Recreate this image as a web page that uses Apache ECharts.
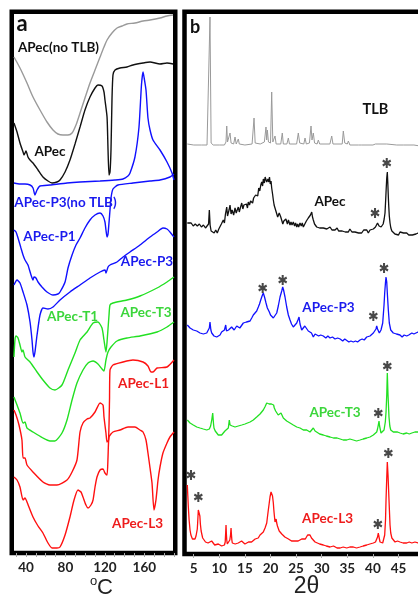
<!DOCTYPE html>
<html><head><meta charset="utf-8">
<script src="https://cdn.jsdelivr.net/npm/echarts@6/dist/echarts.min.js"></script>
<style>html,body{margin:0;padding:0;background:#fff}#c{width:418px;height:594px}</style>
</head><body><div id="c"></div>
<script>
// ---------- Panel a: DSC curves, [temperature °C, heat flow (a.u., stacked)] ----------
const dscApecNoTlb = [[27.8,496],[33.9,485],[41.0,470],[47.1,456],[54.2,443],[61.3,431],[67.4,423],[72.4,419],[77.5,418],[82.6,418],[86.7,420],[90.7,428],[94.8,440],[99.8,455],[104.9,470],[110.0,483],[115.1,496],[119.1,506],[122.2,513],[127.2,520],[132.3,525],[137.4,527],[142.4,529],[150.5,530],[158.7,532],[165.8,533],[175.9,535],[183.0,537],[189.1,538]];
const dscApec = [[27.8,430],[30.9,421],[33.9,410],[37.0,401],[38.0,398],[40.0,402],[42.0,396],[44.1,393],[47.1,390],[52.2,383],[57.2,376],[62.3,372],[66.4,370],[71.4,371],[74.5,373],[79.6,381],[84.6,393],[89.7,409],[94.8,426],[99.8,443],[104.9,456],[110.0,465],[113.0,468],[117.1,467],[119.1,461],[120.1,453],[122.2,436],[123.2,403],[124.2,378],[125.2,381],[126.2,403],[127.2,453],[128.2,478],[130.3,483],[135.3,485],[142.4,486],[148.5,488],[158.7,490],[165.8,491],[175.9,489],[183.0,490],[189.1,489]];
const dscP3NoTlb = [[27.8,370],[33.9,369],[39.0,369],[44.1,368],[47.1,365],[49.1,358],[51.2,363],[54.2,367],[64.3,368],[81.6,370],[94.8,371],[115.1,372],[130.3,373],[138.4,374],[143.4,377],[145.5,380],[150.5,396],[154.6,426],[157.1,468],[158.7,481],[159.7,476],[161.7,463],[163.7,435],[165.8,423],[168.8,413],[175.9,403],[183.0,391],[188.1,380],[190.1,373]];
const dscP1 = [[27.8,323],[29.9,321],[31.9,315],[34.9,305],[37.0,298],[39.0,293],[42.0,288],[45.1,278],[47.1,273],[48.1,276],[50.1,275],[52.2,271],[56.2,266],[61.3,261],[67.4,258],[72.4,259],[74.5,261],[79.6,271],[82.6,285],[86.7,298],[90.7,308],[94.8,315],[99.8,325],[104.9,333],[110.0,338],[115.1,340],[118.1,337],[120.1,331],[121.1,323],[122.2,316],[123.2,319],[125.2,343],[126.2,355],[128.2,364],[133.3,368],[148.5,370],[165.8,372],[175.9,373],[186.0,376],[190.1,379]];
const dscP3 = [[27.8,268],[30.9,273],[33.9,270],[37.0,261],[41.0,248],[44.1,231],[46.1,213],[47.1,201],[48.1,196],[49.1,201],[51.2,218],[54.2,238],[57.2,245],[62.3,244],[67.4,246],[74.5,253],[84.6,261],[94.8,268],[104.9,275],[115.1,281],[120.1,283],[121.1,280],[123.2,286],[125.2,288],[132.3,291],[138.4,296],[145.5,301],[155.6,308],[165.8,316],[172.9,321],[178.9,325],[183.0,324],[186.0,321],[190.1,316]];
const dscT1 = [[27.8,196],[28.8,213],[29.9,217],[31.9,215],[33.9,208],[35.9,201],[37.0,203],[39.0,196],[44.1,191],[51.2,181],[57.2,173],[64.3,165],[69.4,163],[76.5,168],[82.6,183],[89.7,200],[94.8,213],[101.9,221],[108.0,230],[113.0,231],[117.1,225],[119.1,213],[121.1,201],[122.2,211],[124.2,238],[125.2,248],[128.2,250],[142.4,253],[155.6,257],[172.9,265],[183.0,271],[190.1,276]];
const dscT3 = [[27.8,156],[30.9,148],[33.9,140],[37.0,130],[39.0,131],[41.0,125],[47.1,121],[57.2,115],[64.3,112],[69.4,112],[76.5,120],[81.6,133],[86.7,153],[91.7,170],[97.8,183],[102.9,190],[108.0,192],[113.0,189],[117.1,184],[119.1,182],[121.1,193],[123.2,201],[126.2,206],[132.3,212],[142.4,215],[155.6,217],[172.9,221],[183.0,226],[190.1,231]];
const dscL1 = [[27.8,143],[29.9,138],[32.9,128],[35.9,113],[37.0,95],[39.0,95],[41.0,88],[47.1,81],[57.2,71],[64.3,68],[71.4,68],[81.6,73],[86.7,81],[91.7,93],[94.8,121],[97.8,130],[101.9,134],[104.9,135],[110.0,141],[115.1,150],[118.1,148],[119.1,136],[121.1,120],[122.2,111],[123.7,113],[124.7,153],[125.2,183],[128.2,188],[138.4,191],[148.5,193],[158.7,191],[163.7,187],[166.8,181],[168.8,181],[172.9,185],[183.0,186],[190.1,193]];
const dscL3 = [[27.8,76],[30.9,73],[33.9,66],[37.0,53],[39.0,55],[41.0,51],[47.1,36],[52.2,27],[57.2,20],[62.3,10],[66.4,5],[71.4,5],[74.5,6],[79.6,18],[84.6,36],[88.7,53],[92.7,63],[95.8,61],[97.8,56],[100.8,48],[102.9,45],[105.9,48],[108.0,53],[110.0,66],[112.0,76],[115.1,83],[118.1,84],[120.1,80],[122.2,78],[123.2,96],[124.2,116],[128.2,121],[135.3,123],[143.4,126],[150.5,126],[155.6,123],[158.7,121],[161.7,113],[163.7,100],[165.8,85],[167.8,70],[169.8,43],[171.8,53],[173.9,73],[175.9,86],[178.9,100],[183.0,110],[186.0,116],[190.1,121]];
const tempTicks = [40, 80, 120, 160];

// ---------- Panel b: XRD patterns, [2θ (deg), intensity (a.u., stacked)] ----------
const xrdTLB = [[3.75,410],[5,409],[6.5,409],[7.6,409],[7.95,411],[8.18,537],[8.4,411],[8.8,409],[10,409],[11.0,409],[11.3,412],[11.45,428],[11.6,412],[11.9,411],[12.09,421],[12.3,411],[12.8,410],[13.07,417],[13.3,410],[13.71,415],[13.9,410],[15,409],[16.4,410],[16.78,436],[17.0,411],[18,410],[18.8,412],[19.12,427],[19.25,414],[19.38,424],[19.6,412],[20.0,411],[20.23,462],[20.45,412],[20.7,411],[20.88,418],[21.1,410],[22.0,410],[22.3,421],[22.5,410],[23.2,410],[23.48,416],[23.7,410],[25.1,410],[25.43,421],[25.7,411],[26.5,410],[26.74,416],[27.0,410],[27.6,411],[27.91,428],[28.1,414],[28.36,421],[28.6,411],[29.1,410],[29.34,414],[29.6,410],[31.6,410],[31.95,418],[32.2,410],[34.0,410],[34.22,423],[34.5,411],[35.0,410],[35.2,413],[35.5,409],[37.2,409],[37.48,411],[37.8,409],[40,409],[40.5,410],[42.7,410],[43,409],[44.65,409],[46,409],[48,409],[49.2,408]];
const xrdApec = [[3.75,331],[4.1,329],[4.5,331],[4.9,328],[5.3,330],[5.7,328],[6.1,330],[6.5,327],[6.9,329],[7.3,326],[7.6,328],[7.9,330],[8.05,344],[8.2,329],[8.4,323],[8.7,325],[9.0,321],[9.3,324],[9.6,321],[9.9,325],[10.14,326],[10.4,330],[10.6,328],[10.78,334],[11.0,331],[11.2,340],[11.45,347],[11.6,338],[11.76,337],[11.9,344],[12.09,349],[12.3,340],[12.5,344],[12.8,339],[13.07,346],[13.3,341],[13.5,344],[13.71,347],[13.9,342],[14.1,346],[14.38,351],[14.6,345],[14.8,349],[15.02,347],[15.3,350],[15.5,346],[15.66,352],[15.9,349],[16.1,353],[16.33,354],[16.5,351],[16.7,356],[16.9,354],[17.1,359],[17.3,361],[17.5,358],[17.7,366],[17.9,363],[18.1,369],[18.28,372],[18.45,368],[18.6,375],[18.8,371],[18.95,377],[19.12,379],[19.25,372],[19.38,370],[19.5,375],[19.65,372],[19.8,377],[19.95,370],[20.1,373],[20.23,366],[20.4,360],[20.55,354],[20.7,349],[20.88,347],[21.05,343],[21.21,341],[21.4,337],[21.52,336],[21.7,341],[21.86,342],[22.0,337],[22.2,335],[22.4,330],[22.6,333],[22.83,332],[23.0,335],[23.16,334],[23.3,330],[23.5,334],[23.81,329],[24.0,332],[24.2,329],[24.45,332],[24.7,328],[24.9,331],[25.12,327],[25.3,330],[25.5,327],[25.76,331],[26.0,328],[26.2,331],[26.41,327],[26.7,330],[27.0,333],[27.2,331],[27.38,336],[27.6,334],[27.8,339],[28.05,342],[28.2,337],[28.36,334],[28.6,330],[28.8,332],[29.02,327],[29.3,329],[29.6,326],[29.9,328],[30.31,326],[30.6,328],[31.0,325],[31.3,327],[31.62,327],[32.0,324],[32.27,326],[32.6,324],[33.0,326],[33.3,323],[33.6,325],[34.0,323],[34.3,325],[34.6,322],[34.88,324],[35.2,322],[35.5,325],[35.9,322],[36.2,324],[36.5,322],[36.8,324],[37.2,321],[37.48,323],[37.8,321],[38.2,324],[38.5,322],[38.8,324],[39.1,321],[39.43,324],[39.8,323],[40.08,325],[40.3,324],[40.5,327],[40.74,329],[40.9,331],[41.05,333],[41.2,328],[41.4,326],[41.6,327],[41.8,326],[42.0,330],[42.2,335],[42.36,341],[42.5,355],[42.6,366],[42.7,376],[42.81,382],[42.9,372],[43.01,357],[43.1,347],[43.2,338],[43.34,331],[43.5,326],[43.7,323],[43.98,322],[44.3,320],[44.6,322],[45.0,319],[45.29,322],[45.6,320],[46.0,321],[46.3,319],[46.6,321],[47.0,319],[47.3,321],[47.7,319],[48.0,321],[48.4,320],[48.81,321],[49.2,320]];
const xrdP3 = [[3.75,229],[4.0,227],[4.28,226],[4.6,225],[4.92,224],[5.25,222],[5.59,223],[5.9,221],[6.23,221],[6.55,223],[6.88,220],[7.2,222],[7.54,221],[7.8,223],[8.05,226],[8.18,232],[8.35,224],[8.52,221],[8.75,219],[8.96,218],[9.2,216],[9.49,217],[9.8,219],[10.14,219],[10.45,222],[10.78,221],[11.0,224],[11.25,229],[11.4,223],[11.56,221],[11.8,224],[12.09,224],[12.4,227],[12.73,227],[12.9,224],[13.07,225],[13.4,228],[13.71,229],[14.0,226],[14.38,228],[14.69,231],[15.02,229],[15.3,232],[15.66,234],[16.0,233],[16.33,236],[16.64,239],[17.0,240],[17.3,243],[17.62,247],[17.85,250],[18.09,254],[18.35,258],[18.59,261],[18.83,257],[19.12,251],[19.38,246],[19.57,244],[19.77,242],[20.0,239],[20.23,237],[20.55,236],[20.88,238],[21.21,241],[21.52,248],[21.86,257],[22.19,263],[22.38,267],[22.55,264],[22.83,257],[23.16,247],[23.48,239],[23.81,234],[24.1,230],[24.45,227],[24.8,229],[25.12,231],[25.35,234],[25.57,237],[25.76,230],[26.09,224],[26.41,225],[26.7,228],[27.07,227],[27.38,223],[27.71,224],[28.0,221],[28.36,217],[28.7,220],[29.02,220],[29.4,218],[29.8,219],[30.31,218],[30.8,216],[31.2,218],[31.62,216],[32.1,217],[32.6,215],[33.1,216],[33.6,215],[34.1,213],[34.5,215],[34.88,214],[35.3,212],[35.7,213],[36.17,212],[36.6,213],[37.0,212],[37.48,214],[37.9,215],[38.3,214],[38.79,217],[39.1,216],[39.43,218],[39.8,219],[40.08,221],[40.41,222],[40.6,225],[40.74,228],[40.9,225],[41.05,223],[41.25,221],[41.58,224],[41.91,231],[42.17,249],[42.3,261],[42.46,272],[42.56,277],[42.7,272],[42.81,261],[43.01,244],[43.2,231],[43.48,224],[43.7,222],[43.98,221],[44.3,219],[44.6,220],[45.29,219],[45.7,217],[46.1,219],[46.6,218],[47.0,219],[47.25,219],[47.6,221],[48.0,220],[48.4,221],[48.81,222],[49.2,222]];
const xrdT3 = [[3.75,134],[4.0,132],[4.28,131],[4.6,130],[4.92,129],[5.25,128],[5.59,127],[5.9,127],[6.23,126],[6.55,126],[6.88,125],[7.2,124],[7.54,124],[7.8,125],[8.05,125],[8.3,128],[8.52,134],[8.71,141],[8.87,130],[8.96,126],[9.2,123],[9.49,121],[9.8,119],[10.14,117],[10.45,119],[10.78,121],[11.1,123],[11.45,124],[11.76,126],[11.95,134],[12.1,129],[12.23,127],[12.54,128],[12.8,126],[13.07,127],[13.4,128],[13.71,128],[14.0,127],[14.38,129],[14.7,128],[15.02,130],[15.5,131],[16.0,132],[16.3,131],[16.64,134],[17.0,135],[17.3,137],[17.6,138],[17.95,140],[18.3,142],[18.59,144],[18.9,147],[19.26,151],[19.57,153],[19.75,150],[19.9,148],[20.17,150],[20.43,152],[20.6,149],[20.74,146],[21.0,143],[21.21,141],[21.5,139],[21.86,137],[22.05,141],[22.19,143],[22.35,139],[22.5,136],[22.8,134],[23.16,133],[23.5,132],[23.81,131],[24.1,130],[24.45,129],[24.8,128],[25.12,127],[25.4,128],[25.76,126],[26.1,125],[26.41,124],[26.7,125],[27.07,124],[27.4,123],[27.71,122],[28.0,124],[28.36,126],[28.7,123],[29.02,121],[29.6,120],[30.31,119],[30.9,118],[31.62,117],[32.3,116],[33.0,116],[33.6,115],[34.2,114],[34.88,114],[35.5,115],[36.17,114],[36.8,113],[37.48,114],[38.1,115],[38.79,116],[39.1,116],[39.43,117],[39.8,118],[40.08,119],[40.41,120],[40.74,122],[40.9,125],[41.05,129],[41.19,133],[41.3,128],[41.39,126],[41.58,121],[41.9,122],[42.17,124],[42.42,132],[42.56,142],[42.7,159],[42.81,181],[42.95,159],[43.14,137],[43.3,128],[43.48,124],[43.98,122],[44.32,121],[44.8,122],[45.29,121],[45.9,120],[46.6,121],[47.1,120],[47.6,121],[48.2,122],[48.81,122],[49.2,121]];
const xrdL3 = [[3.75,69],[3.85,58],[3.95,47],[4.1,34],[4.28,24],[4.45,19],[4.57,17],[4.75,15],[4.92,14],[5.1,16],[5.25,15],[5.45,18],[5.59,19],[5.7,25],[5.78,32],[5.9,44],[6.09,46],[6.2,38],[6.3,30],[6.45,23],[6.62,19],[6.75,16],[6.88,14],[7.1,15],[7.3,12],[7.54,13],[7.8,11],[8.0,13],[8.18,11],[8.5,13],[8.77,12],[9.1,9],[9.49,8],[9.8,10],[10.14,9],[10.45,8],[10.78,7],[11.0,9],[11.15,12],[11.25,22],[11.31,29],[11.38,20],[11.45,14],[11.56,10],[11.75,12],[11.89,11],[12.05,14],[12.19,19],[12.29,26],[12.36,20],[12.45,14],[12.54,11],[12.7,10],[12.87,9],[13.1,10],[13.4,9],[13.7,11],[14.04,11],[14.35,13],[14.69,12],[15.0,10],[15.35,11],[15.7,12],[16.0,13],[16.3,12],[16.64,14],[17.0,15],[17.3,17],[17.6,16],[17.95,19],[18.3,20],[18.59,22],[18.8,24],[18.93,26],[19.1,28],[19.26,31],[19.4,37],[19.57,44],[19.75,51],[19.9,57],[20.1,62],[20.23,64],[20.39,58],[20.55,51],[20.65,44],[20.74,39],[20.88,32],[21.0,34],[21.1,35],[21.21,31],[21.35,28],[21.52,26],[21.7,23],[21.86,21],[22.2,20],[22.5,19],[22.8,17],[23.16,16],[23.5,15],[23.81,14],[24.1,13],[24.45,12],[24.8,13],[25.12,14],[25.4,13],[25.76,14],[26.1,15],[26.41,16],[26.8,15],[27.07,17],[27.25,19],[27.38,21],[27.55,20],[27.71,19],[28.0,16],[28.36,14],[28.7,12],[29.02,11],[29.6,10],[30.31,9],[30.9,8],[31.62,7],[32.3,8],[33.0,6],[33.6,6],[34.2,7],[34.88,6],[35.5,7],[36.17,7],[36.8,6],[37.48,7],[38.1,8],[38.79,9],[39.4,10],[40.08,11],[40.5,12],[40.74,14],[40.9,17],[41.05,21],[41.15,18],[41.25,16],[41.39,12],[41.6,11],[41.91,11],[42.1,13],[42.3,19],[42.46,34],[42.56,54],[42.7,76],[42.81,92],[42.95,79],[43.14,54],[43.34,29],[43.48,21],[43.7,16],[43.98,14],[44.32,12],[44.8,13],[45.29,12],[45.9,11],[46.6,11],[47.1,12],[47.6,11],[48.2,12],[48.81,11],[49.2,11]];
const xrdStars = [[42.7,391],[40.41,341],[18.47,266],[22.38,274],[42.17,286],[40.08,238],[42.81,188],[41.05,141],[4.47,79],[5.90,57],[43.01,101],[40.96,30]];
const thetaTicks = [5, 10, 15, 20, 25, 30, 35, 40, 45];

// ---------- chart ----------
const C = { gray:'#9a9a9a', black:'#111111', blue:'#1010ff', green:'#22e022', red:'#ff1010' };
const TXT = { blue:'#1a1aee', green:'#3bd63b', red:'#ee1c1c', black:'#111111' };
const LBL = 'Lato, "Open Sans", sans-serif';
const STAR = 'path://M0.11,-0.5L-0.11,-0.5L-0.11,0.5L0.11,0.5ZM0.378,0.345L0.488,0.155L-0.378,-0.345L-0.488,-0.155ZM-0.488,0.155L-0.378,0.345L0.488,-0.155L0.378,-0.345Z';

function line(data, color, gi, w, smooth) {
  return { type:'line', xAxisIndex:gi, yAxisIndex:gi, data, showSymbol:false, symbol:'none',
    smooth: smooth, lineStyle:{ color, width:w }, silent:true, animation:false, clip:true };
}
function tag(text, x, y, color, size) {
  return { type:'text', x, y, z:100, style:{ text, fill:color, font:'bold ' + (size||13.5) + 'px ' + LBL, align:'center', verticalAlign:'middle' } };
}

const chart = echarts.init(document.getElementById('c'), null, { renderer:'canvas' });
const axisLabel = { fontFamily:LBL, fontWeight:'bold', fontSize:13.5, color:'#222', margin:8 };
chart.setOption({
  animation:false,
  backgroundColor:'#ffffff',
  grid:[
    { left:11.75, top:11.75, width:163.5, height:541.25, show:true, borderColor:'#000', borderWidth:4.5, backgroundColor:'transparent', outerBoundsMode:'none', containLabel:false },
    { left:184.5, top:11.75, width:260, height:542.25, show:true, borderColor:'#000', borderWidth:4.5, backgroundColor:'transparent', outerBoundsMode:'none', containLabel:false }
  ],
  xAxis:[
    { type:'value', gridIndex:0, min:25.55, max:191.37, axisLine:{show:false}, splitLine:{show:false},
      axisTick:{ show:true, customValues:[30,40,50,60,70,80,90,100,110,120,130,140,150,160,170,180,190], length:4, lineStyle:{color:'#aaa'} },
      axisLabel:Object.assign({ customValues:tempTicks }, axisLabel) },
    { type:'value', gridIndex:1, min:3.2, max:53.98, axisLine:{show:false}, splitLine:{show:false},
      axisTick:{ show:true, customValues:thetaTicks, length:4, lineStyle:{color:'#aaa'} },
      axisLabel:Object.assign({ customValues:thetaTicks }, axisLabel) }
  ],
  yAxis:[
    { type:'value', gridIndex:0, min:0, max:541.25, show:false },
    { type:'value', gridIndex:1, min:0, max:542.25, show:false }
  ],
  series:[
    line(dscApecNoTlb, C.gray, 0, 1.4, 0.25),
    line(dscApec, C.black, 0, 1.4, 0.2),
    line(dscP3NoTlb, C.blue, 0, 1.4, 0.2),
    line(dscP1, C.blue, 0, 1.4, 0.2),
    line(dscP3, C.blue, 0, 1.4, 0.2),
    line(dscT1, C.green, 0, 1.4, 0.2),
    line(dscT3, C.green, 0, 1.4, 0.2),
    line(dscL1, C.red, 0, 1.4, 0.2),
    line(dscL3, C.red, 0, 1.4, 0.2),
    line(xrdTLB, C.gray, 1, 1, false),
    line(xrdApec, C.black, 1, 1.3, false),
    line(xrdP3, C.blue, 1, 1.3, false),
    line(xrdT3, C.green, 1, 1.3, false),
    line(xrdL3, C.red, 1, 1.3, false),
    { type:'scatter', xAxisIndex:1, yAxisIndex:1, data:xrdStars, symbol:STAR, symbolSize:[9,10],
      itemStyle:{ color:'#1a1a1a' }, silent:true, z:10 }
  ],
  graphic:[
    tag('a', 22, 24, '#111', 22),
    tag('b', 195, 27, '#111', 18),
    tag('APec(no TLB)', 58.5, 48, TXT.black),
    tag('APec', 50, 152, TXT.black),
    tag('APec-P3(no TLB)', 65.5, 203, TXT.blue),
    tag('APec-P1', 49.5, 237, TXT.blue),
    tag('APec-P3', 147, 262, TXT.blue),
    tag('APec-T1', 72.5, 316.5, TXT.green),
    tag('APec-T3', 146, 312.5, TXT.green),
    tag('APec-L1', 143.5, 384, TXT.red),
    tag('APec-L3', 137.5, 524, TXT.red),
    tag('TLB', 375.5, 109, TXT.black, 14.5),
    tag('APec', 330, 202, TXT.black),
    tag('APec-P3', 328.5, 308, TXT.blue),
    tag('APec-T3', 335, 412.5, TXT.green),
    tag('APec-L3', 327.5, 519, TXT.red),
    { type:'text', x:93.7, y:581.5, style:{ text:'o', fill:'#222', font:'13px "Liberation Sans", sans-serif', align:'center', verticalAlign:'middle' } },
    { type:'text', x:105, y:588, style:{ text:'C', fill:'#222', font:'22px "Liberation Sans", sans-serif', align:'center', verticalAlign:'middle' } },
    { type:'text', x:306.5, y:587, style:{ text:'2θ', fill:'#222', font:'23px "Liberation Sans", sans-serif', align:'center', verticalAlign:'middle' } }
  ]
});
</script></body></html>
